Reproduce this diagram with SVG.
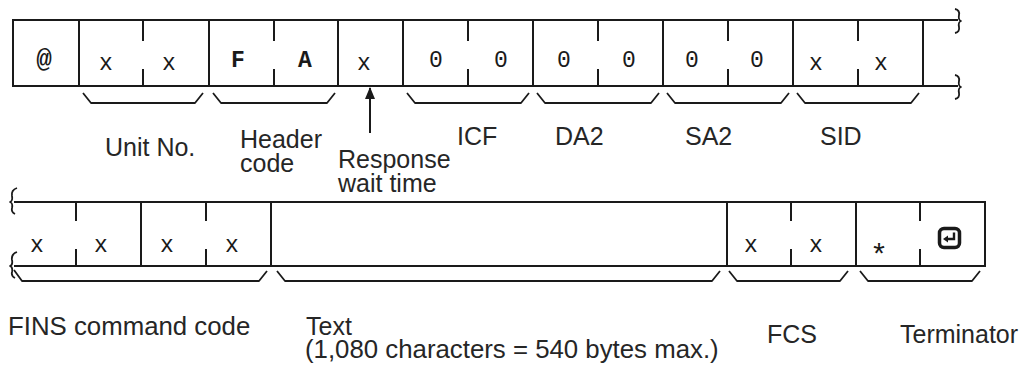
<svg xmlns="http://www.w3.org/2000/svg" width="1024" height="366" viewBox="0 0 1024 366">
<style>
.ln{stroke:#1a1a1a;stroke-width:2;fill:none;stroke-linecap:square}
.br{stroke:#1a1a1a;stroke-width:1.8;fill:none;stroke-linejoin:round}
.ch{font-family:"Liberation Mono","Courier New",monospace;font-size:23px;fill:#1a1a1a;text-anchor:middle}
.b{font-weight:bold}
.big{font-size:26px}
.ast{font-size:30px}
.lb{font-family:"Liberation Sans",Arial,Helvetica,sans-serif;font-size:25px;fill:#262626}
.lw{font-size:25.8px}
</style>
<defs>
<marker id="ah" markerWidth="12" markerHeight="10" refX="11" refY="5" orient="auto" markerUnits="userSpaceOnUse" viewBox="0 0 12 10">
<path d="M0,0 L12,5 L0,10 Z" fill="#1a1a1a"/>
</marker>
</defs>
<rect width="1024" height="366" fill="#fff"/>

<g id="frame-top">
<path class="ln" d="M13,20 H957 M13,86 H957 M13,20 V86 M923,20 V86"/>
<path class="br" d="M955,9 Q960,10 959,15 Q958,20 961,21 Q958,22 959,27 Q960,32 955,33"/>
<path class="br" d="M955,75 Q960,76 959,81 Q958,86 961,87 Q958,88 959,93 Q960,98 955,99"/>
</g>
<g id="cell-at"><path class="ln" d="M79,20 V86"/><text class="ch b big" x="44" y="67">@</text></g>
<g id="cell-unit"><path class="ln" d="M143,20 V40 M143,70 V86 M209,20 V86"/><text class="ch" x="106" y="70">x</text><text class="ch" x="169" y="70">x</text></g>
<g id="cell-header"><path class="ln" d="M274,20 V40 M274,70 V86 M338,20 V86"/><text class="ch b" x="238" y="67">F</text><text class="ch b" x="305" y="67">A</text></g>
<g id="cell-resp"><path class="ln" d="M403,20 V86"/><text class="ch" x="364" y="70">x</text></g>
<g id="cell-icf"><path class="ln" d="M468,20 V40 M468,70 V86 M533,20 V86"/><text class="ch" x="436" y="67">0</text><text class="ch" x="501" y="67">0</text></g>
<g id="cell-da2"><path class="ln" d="M598,20 V40 M598,70 V86 M663,20 V86"/><text class="ch" x="564" y="67">0</text><text class="ch" x="629" y="67">0</text></g>
<g id="cell-sa2"><path class="ln" d="M728,20 V40 M728,70 V86 M793,20 V86"/><text class="ch" x="692" y="67">0</text><text class="ch" x="757" y="67">0</text></g>
<g id="cell-sid"><path class="ln" d="M858,20 V40 M858,70 V86"/><text class="ch" x="816" y="70">x</text><text class="ch" x="881" y="70">x</text></g>

<g id="frame-bottom">
<path class="ln" d="M15,202 H985 M15,266 H985 M985,202 V266"/>
<path class="br" d="M17,188 Q11,190 12,196 Q13,201 10,202 Q13,203 12,208 Q11,212 15,214"/>
<path class="br" d="M17,252 Q11,254 12,260 Q13,265 10,266 Q13,267 12,272 Q11,276 15,278"/>
</g>
<g id="cell-fins"><path class="ln" d="M76,202 V220 M76,250 V266 M141,202 V266 M206,202 V220 M206,250 V266 M271,202 V266"/>
<text class="ch" x="37" y="252">x</text><text class="ch" x="101" y="252">x</text><text class="ch" x="167" y="252">x</text><text class="ch" x="232" y="252">x</text></g>
<g id="cell-text"><path class="ln" d="M727,202 V266"/></g>
<g id="cell-fcs"><path class="ln" d="M791,202 V220 M791,250 V266 M856,202 V266"/><text class="ch" x="751" y="252">x</text><text class="ch" x="816" y="252">x</text></g>
<g id="cell-term"><path class="ln" d="M920,202 V220 M920,250 V266"/><text class="ch ast" x="879" y="265">*</text>
<rect x="939.5" y="228.5" width="20" height="19" rx="4.5" fill="none" stroke="#1a1a1a" stroke-width="3.5"/>
<path d="M954,232.5 V239 H946" fill="none" stroke="#1a1a1a" stroke-width="2.4"/>
<path d="M943,239 L948,235.5 L948,242.5 Z" fill="#1a1a1a"/></g>

<g id="connectors">
<path class="br" d="M83,93 L91,103 H195 L203,93"/>
<path class="br" d="M213,93 L221,103 H327 L335,93"/>
<path class="br" d="M407,93 L415,103 H521 L529,93"/>
<path class="br" d="M537,93 L545,103 H651 L659,93"/>
<path class="br" d="M667,93 L675,103 H781 L789,93"/>
<path class="br" d="M797,93 L805,103 H911 L919,93"/>
<path class="br" d="M14,270 L22,281 H259 L267,271"/>
<path class="br" d="M277,271 L285,281 H712 L720,271"/>
<path class="br" d="M729,271 L737,281 H840 L848,271"/>
<path class="br" d="M860,271 L868,281 H972 L980,271"/>
<line x1="370" y1="133" x2="370" y2="88" stroke="#1a1a1a" stroke-width="2" marker-end="url(#ah)"/>
</g>

<g id="labels">
<text class="lb" x="105" y="156">Unit No.</text>
<text class="lb" x="240" y="148">Header</text>
<text class="lb" x="240" y="172">code</text>
<text class="lb" x="338" y="168">Response</text>
<text class="lb" x="338" y="192">wait time</text>
<text class="lb" x="457" y="145">ICF</text>
<text class="lb" x="555" y="145">DA2</text>
<text class="lb" x="685" y="145">SA2</text>
<text class="lb" x="820" y="145">SID</text>
<text class="lb lw" x="8" y="335">FINS command code</text>
<text class="lb" x="306" y="335">Text</text>
<text class="lb lw" x="305" y="358">(1,080 characters = 540 bytes max.)</text>
<text class="lb" x="767" y="343">FCS</text>
<text class="lb" x="900" y="343">Terminator</text>
</g>
</svg>
